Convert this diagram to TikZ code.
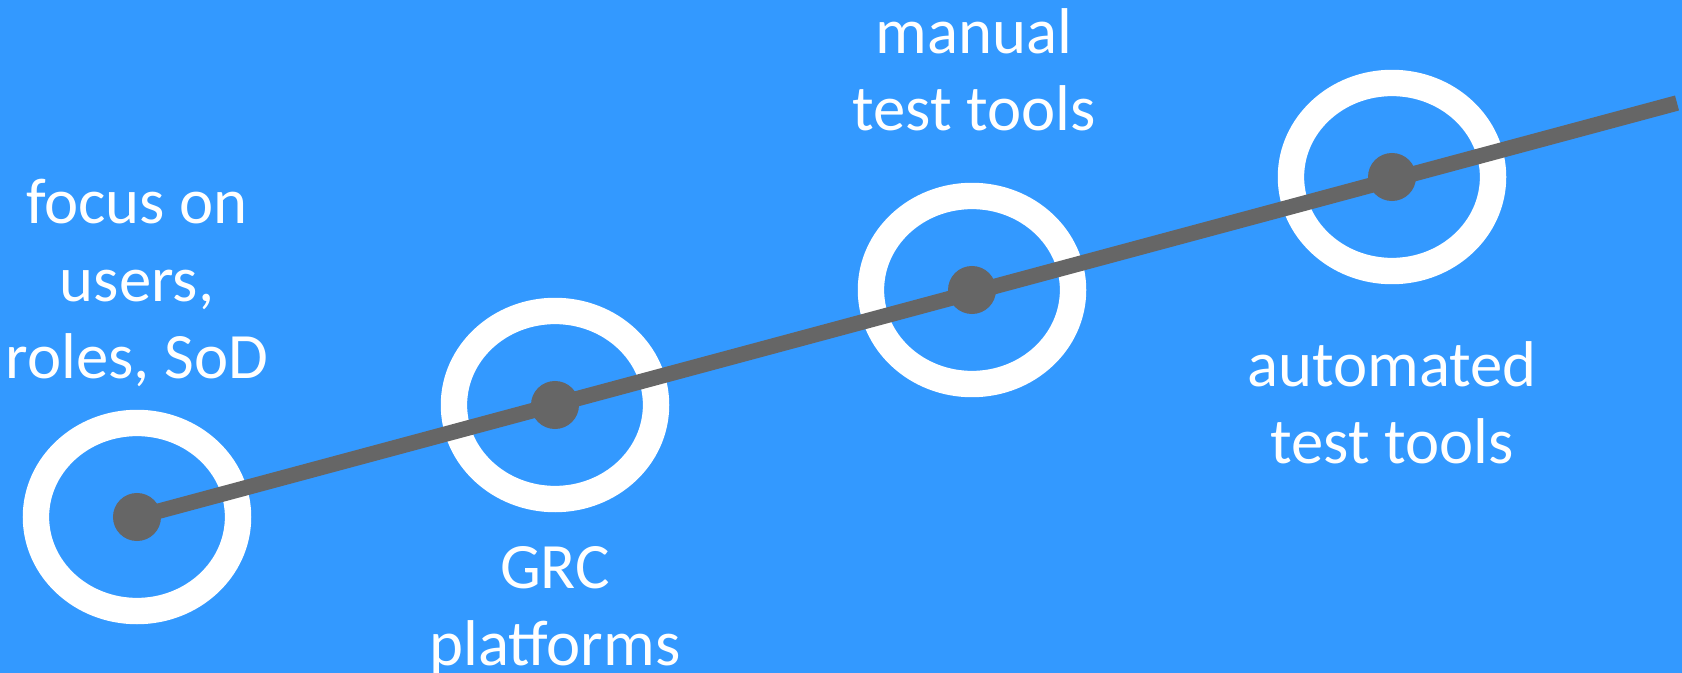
\documentclass[tikz,border=0pt]{standalone}
\usepackage{fontspec}
\setmainfont{Carlito}
\usetikzlibrary{shapes.geometric,positioning}
\definecolor{Sky}{HTML}{3399FF}
\definecolor{Slate}{HTML}{666666}

\begin{document}
\begin{tikzpicture}[
  x=0.01cm,y=-0.01cm,
  ring/.style={ellipse,draw=white,line width=7.5pt,minimum width=2.02cm,minimum height=1.88cm,inner sep=0pt},
  dot/.style={circle,fill=Slate,minimum size=0.48cm,inner sep=0pt},
  lbl/.style={text=white,align=center,inner sep=0pt,font=\fontsize{18.4}{22}\selectfont},
  track/.style={draw=Slate,line width=4.4pt}
]
\fill[Sky] (0,0) rectangle (1682,673);
\useasboundingbox (0,0) rectangle (1682,673);
\node[ring] (users) at (137,517) {};
\node[ring] (grc) at (555,405) {};
\node[ring] (manual) at (972,290) {};
\node[ring] (auto) at (1392,177) {};
\coordinate (trackend) at (1677,103);
\node[dot] (usersdot) at (users.center) {};
\draw[track] (usersdot.center) -- (trackend);
\node[dot] (grcdot) at (grc.center) {};
\node[dot] (manualdot) at (manual.center) {};
\node[dot] (autodot) at (auto.center) {};
\node[lbl] (userstext) at (137,283) {focus on\\users,\\roles, SoD};
\node[lbl] (grctext) at (555,611) {GRC\\platforms};
\node[lbl] (manualtext) at (974,70) {manual\\test tools};
\node[lbl] (autotext) at (1392,403) {automated\\test tools};
\end{tikzpicture}
\end{document}
